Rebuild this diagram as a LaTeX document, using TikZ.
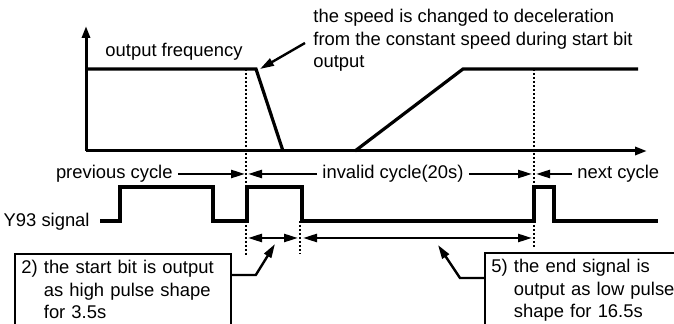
\documentclass[tikz,border=0pt]{standalone}
\usepackage{fontspec}
\setmainfont{Liberation Sans}
\usetikzlibrary{arrows.meta,positioning,calc}

\begin{document}
\begin{tikzpicture}[x=0.5pt,y=-0.5pt,font=\fontsize{9.2}{11.25}\selectfont,
 axis/.style={line width=1.5pt,-{Triangle[length=6pt,width=4pt]}},
 wave/.style={line width=1.6pt,line join=miter},
 arr/.style={line width=1.2pt,-{Triangle[length=7pt,width=4pt]}},
 dur/.style={line width=1.2pt,{Triangle[length=7pt,width=4pt]}-{Triangle[length=7pt,width=4pt]}},
 guide/.style={line width=1.2pt,dash pattern=on 1pt off 1pt},
 lbl/.style={inner sep=2.5pt},
 callout/.style={text width=101.5pt,align=left,inner sep=3pt},
 frame/.style={line width=1.2pt}]
\useasboundingbox (0,0) rectangle (674,324);
\clip (0,0) rectangle (674,324);
% frequency chart
\draw[axis] (86,151) -- (86,26);
\draw[axis] (86,151) -- (647,151);
\draw[wave] (86,69) -- (256,69) -- (283,151);
\draw[wave] (355,151) -- (463,69) -- (638,69);
\node[lbl] (flab) at (174,52) {output frequency};
\node[lbl,anchor=north west,inner sep=2pt,align=left] (note) at (309,5)
 {the speed is changed to deceleration\\from the constant speed during start bit\\output};
\coordinate (n1) at (305,43);
\coordinate (k1) at (260,69);
\draw[arr] (n1) -- (k1);
% dotted guides
\draw[guide] (246,69) -- (246,256);
\draw[guide] (534,69) -- (534,248);
\draw[guide] (300,221) -- (300,254);
% cycles
\coordinate (c1) at (245,174);
\coordinate (c2) at (248,174);
\coordinate (c3) at (532,174);
\coordinate (c4) at (536,174);
\node[lbl,anchor=east] (prev) at (178,174) {previous cycle};
\node[lbl] (inv) at (393,174) {invalid cycle(20s)};
\node[lbl,anchor=west] (next) at (572,174) {next cycle};
\draw[arr] (prev.east) -- (c1);
\draw[arr] (inv.west) -- (c2);
\draw[arr] (inv.east) -- (c3);
\draw[arr] (next.west) -- (c4);
% Y93 signal
\node[lbl,anchor=east] (ysig) at (95,222) {Y93 signal};
\draw[wave] (100,221) -- (120,221) -- (120,187) -- (213,187) -- (213,221)
 -- (247,221) -- (247,187) -- (302,187) -- (302,221) -- (534,221)
 -- (534,187) -- (554,187) -- (554,221) -- (658,221);
\coordinate (s1) at (248,238);
\coordinate (s2) at (298,238);
\coordinate (s3) at (303,238);
\coordinate (s4) at (532,238);
\draw[dur] (s1) -- (s2);
\draw[dur] (s3) -- (s4);
% callouts
\node[callout,anchor=north west] (b1) at (15,254)
 {2) the start bit is output\\\hphantom{2) }as high pulse shape\\\hphantom{2) }for 3.5s};
\node[callout,anchor=north west,text width=100pt] (b2) at (485,253)
 {5) the end signal is\\\hphantom{5) }output as low pulse\\\hphantom{5) }shape for 16.5s};
\draw[frame] ([yshift=-10pt]b1.south west) -- (b1.north west) -- (b1.north east) -- ([yshift=-10pt]b1.south east);
\draw[frame] ([yshift=-10pt]b2.south west) -- (b2.north west) -- (b2.north east) -- ([yshift=-10pt]b2.south east);
\coordinate (t1) at (275,244);
\coordinate (t2) at (438,245);
\draw[arr] ([yshift=-10.5pt]b1.north east) -- ++(25,0) -- (t1);
\draw[arr] ([yshift=-12.5pt]b2.north west) -- ++(-25,0) -- (t2);
\end{tikzpicture}
\end{document}
